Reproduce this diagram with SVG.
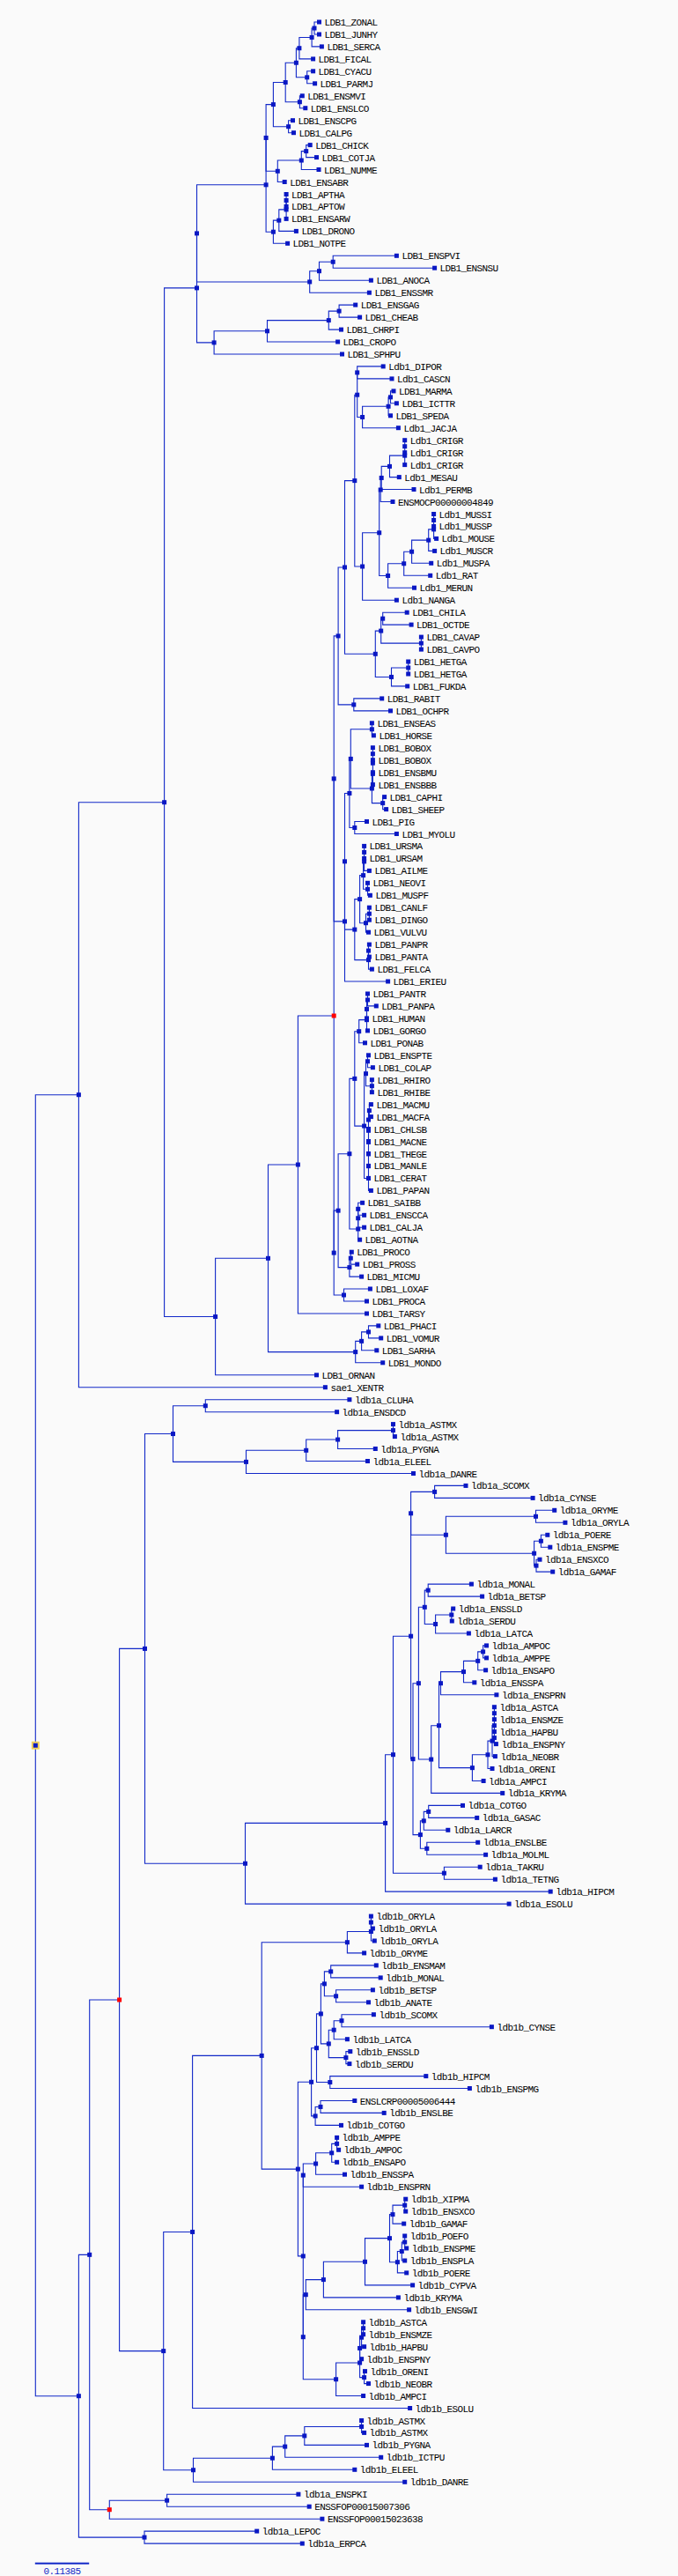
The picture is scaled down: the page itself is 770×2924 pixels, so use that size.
<svg xmlns="http://www.w3.org/2000/svg" width="770" height="2924" viewBox="0 0 770 2924">
<style>
.c path{fill:none;stroke:#1228c8;stroke-width:1.1}
text{font-family:"Liberation Mono","DejaVu Sans Mono",monospace;font-size:11px;letter-spacing:-0.6px;fill:#000}
.sc{fill:#1228c8}
</style>
<defs>
<rect id="m" x="-2.5" y="-2.5" width="5" height="5" fill="#0a18c4"/>
<rect id="mr" x="-2.5" y="-2.5" width="5" height="5" fill="#f00"/>
</defs>
<rect width="770" height="2924" fill="#fafafa"/>
<g id="connectors" class="c">
<path d="M362.5 25H357V39H362.5"/><path d="M357 32H354.1V52.9H365.4"/><path d="M354.1 42.45H339.9V66.9H355.6"/><path d="M355.6 80.8H348.7V94.8H357.6"/><path d="M339.9 54.7H336.4V87.8H348.7"/><path d="M343.3 108.8H340.4V122.7H346.8"/><path d="M336.4 71.25H324.2V115.75H340.4"/><path d="M332.5 136.7H327.6V150.7H333.5"/><path d="M324.2 93.5H310.4V143.7H327.6"/><path d="M352.2 164.6H347.7V178.6H359.5"/><path d="M347.7 171.6H342.3V192.5H362"/><path d="M342.3 182.05H315.3V206.5H323.2"/><path d="M310.4 118.6H302.1V194.3H315.3"/><path d="M325.1 220.5V234.4"/><path d="M325.1 227.45V248.4"/><path d="M325.1 237.9H316.8V262.4H336.4"/><path d="M316.8 250.15H310.4V276.3H326.6"/><path d="M302.1 156.45V263.2H310.4"/>
<path d="M450.4 290.3H378.2V304.2H493.6"/><path d="M378.2 297.25H362.5V318.2H421.4"/><path d="M362.5 307.7H351.7V332.2H419.4"/><path d="M302.1 209.8H223.5V319.95H351.7"/>
<path d="M403.7 346.1H385.1V360.1H408.6"/><path d="M385.1 353.1H373.3V374.1H387.5"/><path d="M373.3 363.6H303.5V388H383.6"/><path d="M303.5 375.8H243.1V402H388.5"/><path d="M223.5 264.9V388.9H243.1"/>
<path d="M435.2 415.9H405.7V429.9H445"/><path d="M447 443.9H443.5V457.8H450.4"/><path d="M443.5 450.85H441.1V471.8H443.5"/><path d="M441.1 461.3H411.6V485.7H452.4"/><path d="M405.7 422.9V473.5H411.6"/><path d="M459.7 499.7V527.6"/><path d="M459.7 517.15H442.5V541.6H453.3"/><path d="M442.5 529.4H433.2V555.5H470"/><path d="M433.2 542.45H432.2V569.5H446"/><path d="M492.6 583.5V611.4H495.6"/><path d="M492.6 600.9H486.7V625.4H493.6"/><path d="M486.7 613.15H467.6V639.3H489.7"/><path d="M467.6 626.2H458.7V653.3H488.7"/><path d="M458.7 639.75H440.6V667.2H470.5"/><path d="M432.2 556H430.7V653.5H440.6"/><path d="M430.7 604.75H411.6V681.2H450.4"/><path d="M405.7 448.2H402.8V643H411.6"/>
<path d="M462.2 695.2H434.7V709.1H467.1"/><path d="M478.4 723.1V737.1"/><path d="M434.7 702.15H432.7V730.1H478.4"/><path d="M463.7 751V765"/><path d="M463.7 758H444.5V778.9H462.7"/><path d="M432.7 716.1H426.3V768.45H444.5"/><path d="M402.8 545.6H391.5V742.3H426.3"/><path d="M433.7 792.9H401.8V806.9H443.5"/><path d="M391.5 643.95H384.1V799.9H401.8"/>
<path d="M422.4 820.8V834.8H424.4"/><path d="M423.4 848.7V890.6"/><path d="M436.6 904.6H434.7V918.6H438.6"/><path d="M423.4 878.4H422.4V911.6H434.7"/><path d="M422.4 827.8H398.3V895H422.4"/><path d="M416.5 932.5H402.8V946.5H450.4"/><path d="M398.3 861.4H396.9V939.5H402.8"/>
<path d="M413.6 960.4V988.4H419.4"/><path d="M417.5 1002.3V1016.3H420.4"/><path d="M413.6 977.9H412.6V1009.3H417.5"/><path d="M419.4 1030.2V1044.2"/><path d="M419.4 1037.2H415.5V1058.2H418.5"/><path d="M412.6 993.6H408.6V1047.7H415.5"/><path d="M419.4 1072.1H418.5V1086.1H419.4"/><path d="M418.5 1079.1V1100.1H422.4"/><path d="M408.6 1020.65H402.8V1089.6H418.5"/><path d="M396.9 900.45H391.5V1055.1H402.8"/><path d="M391.5 977.8V1114H440.6"/><path d="M384.1 721.9H379.2V1045.9H391.5"/>
<path d="M417.5 1128V1141.9H427.3"/><path d="M417.5 1134.95H416.5V1155.9"/><path d="M416.5 1145.4V1169.9H417.5"/><path d="M416.5 1157.65H407.7V1183.8H414.5"/><path d="M418.5 1197.8H417.5V1211.7H423.4"/><path d="M422.4 1225.7V1239.7"/><path d="M417.5 1204.75H415.5V1232.7H422.4"/><path d="M421.4 1253.6H419.4V1267.6H421.4"/><path d="M419.4 1260.6H418.5V1351.4H421.4"/><path d="M415.5 1218.7H413.6V1337.5H418.5"/><path d="M407.7 1170.7H402.8V1278.1H413.6"/><path d="M411.6 1365.3H406.7V1379.3H413.6"/><path d="M406.7 1372.3V1393.2H413.6"/><path d="M406.7 1382.75V1407.2H408.6"/><path d="M402.8 1224.4H396.9V1395H406.7"/><path d="M399.3 1421.2H398.3V1435.1H405.7"/><path d="M398.3 1428.15H396.9V1449.1H410.6"/><path d="M396.9 1309.7H384.1V1438.6H396.9"/><path d="M420.4 1463H390.5V1477H416.5"/><path d="M384.1 1374.15H379.2V1470H390.5"/><path d="M379.2 883.9V1422.1"/><path d="M379.2 1153H338.4V1491H416.5"/>
<path d="M429.8 1504.9H418.5V1518.9H432.7"/><path d="M418.5 1511.9H410.6V1532.8H427.8"/><path d="M410.6 1522.35H403.7V1546.8H434.7"/><path d="M338.4 1322H304.5V1534.6H403.7"/><path d="M304.5 1428.3H244.6V1560.8H359.5"/><path d="M223.5 326.9H186.6V1494.55H244.6"/><path d="M186.6 910.7H89.4V1574.7H369.4"/>
<path d="M396.9 1588.7H233.3V1602.7H382.6"/><path d="M446.5 1616.6V1630.6H448.4"/><path d="M446.5 1623.6H383.6V1644.5H426.3"/><path d="M383.6 1634.05H347.7V1658.5H417.5"/><path d="M347.7 1646.3H279.5V1672.5H469.5"/><path d="M233.3 1595.7H196.5V1659.4H279.5"/>
<path d="M529 1686.4H493.6V1700.4H605.1"/><path d="M629.7 1714.3H608.5V1728.3H641.9"/><path d="M621.8 1742.3H614.4V1756.2H624.8"/><path d="M613 1770.2H609V1784.1H627.7"/><path d="M614.4 1749.25H606.6V1777.15H609"/><path d="M608.5 1721.3H506.4V1763.2H606.6"/><path d="M493.6 1693.4H466.6V1742.25H506.4"/>
<path d="M535.4 1798.1H486.2V1812.1H547.6"/><path d="M514.7 1826H512.8V1840H513.3"/><path d="M512.8 1833H494.6V1854H532.4"/><path d="M486.2 1805.1H482.3V1843.5H494.6"/><path d="M552.5 1867.9H548.6V1881.9H552.5"/><path d="M548.6 1874.9H542.7V1895.8H551.6"/><path d="M542.7 1885.35H526.5V1909.8H538.8"/><path d="M526.5 1897.6H500.5V1923.8H563.9"/><path d="M561.4 1937.7V1965.6"/><path d="M561.4 1965.6V1979.6H563.4"/><path d="M561.4 1958.65H559V1993.6H562.4"/><path d="M559 1976.1H554V2007.5H559"/><path d="M554 1991.8H536.4V2021.5H549.1"/><path d="M500.5 1910.7H498.5V2006.65H536.4"/><path d="M498.5 1958.7H489.7V2035.4H570.7"/><path d="M482.3 1824.3H475.4V1997.05H489.7"/><path d="M525.5 2049.4H486.7V2063.4H541.7"/><path d="M486.7 2056.4H481.3V2077.3H508.8"/><path d="M542.7 2091.3H484.8V2105.3H551.6"/><path d="M481.3 2066.85H477.4V2098.3H484.8"/><path d="M475.4 1910.7H469V2082.6H477.4"/><path d="M466.6 1717.8V1996.65H469"/><path d="M545.2 2119.2H504.4V2133.2H562.4"/><path d="M466.6 1857.2H446.5V2126.2H504.4"/><path d="M446.5 1991.7H437.6V2147.1H625.2"/><path d="M437.6 2069.4H278.5V2161.1H578.1"/><path d="M196.5 1627.55H164.5V2115.25H278.5"/>
<path d="M421.4 2175.1V2189H423.4"/><path d="M421.4 2182.05V2203H425.3"/><path d="M421.4 2192.5H394.4V2216.9H413.6"/><path d="M427.3 2230.9H375.7V2244.9H432.2"/><path d="M423.4 2258.8H381.6V2272.8H418.5"/><path d="M375.7 2237.9H368.4V2265.8H381.6"/><path d="M424.4 2286.7H388V2300.7H558.4"/><path d="M388 2293.7H379.2V2314.7H394.4"/><path d="M397.8 2328.6H392.9V2342.6H396.9"/><path d="M379.2 2304.2H373.3V2335.6H392.9"/><path d="M368.4 2251.85H364.4V2319.9H373.3"/><path d="M483.8 2356.6H374.8V2370.5H533.4"/><path d="M364.4 2285.9H359.5V2363.55H374.8"/><path d="M402.8 2384.5H364V2398.4H436.2"/><path d="M364 2391.45H358.1V2412.4H387.5"/><path d="M359.5 2324.7H353.6V2401.9H358.1"/>
<path d="M382.6 2426.4V2440.3H384.6"/><path d="M382.6 2433.35H376.7V2454.3H382.6"/><path d="M376.7 2443.8H358.6V2468.2H391.5"/><path d="M358.6 2456H344.3V2482.2H410.6"/><path d="M460.7 2496.2H459.7V2510.1H460.7"/><path d="M459.7 2503.15H446V2524.1H458.7"/><path d="M459.7 2538V2552H461.7"/><path d="M459.7 2545H456.3V2566H459.7"/><path d="M456.3 2555.5H451.4V2579.9H461.7"/><path d="M446 2513.6H442.5V2567.7H451.4"/><path d="M442.5 2540.65H414.5V2593.9H468.6"/><path d="M414.5 2567.3H367.4V2607.9H452.4"/><path d="M367.4 2587.6H347.3V2621.8H464.6"/><path d="M412.6 2635.8V2649.7"/><path d="M412.6 2642.75H410.6V2663.7H413.6"/><path d="M410.6 2653.2H408.6V2677.7H410.6"/><path d="M414.5 2691.6H413.6V2705.6H418.5"/><path d="M408.6 2665.45V2698.6H413.6"/><path d="M408.6 2682H381.6V2719.5H412.6"/><path d="M347.3 2604.7H344.3V2700.75H381.6"/><path d="M344.3 2469.1V2652.7"/><path d="M353.6 2363.3H338.4V2560.9H344.3"/><path d="M394.4 2204.7H297.2V2462.1H338.4"/><path d="M297.2 2333.4H218.6V2733.5H465.6"/>
<path d="M410.6 2747.5V2761.4H413.6"/><path d="M410.6 2754.45H345.8V2775.4H416.5"/><path d="M345.8 2764.9H323.7V2789.3H432.7"/><path d="M323.7 2777.1H309.4V2803.3H402.8"/><path d="M309.4 2790.2H219.5V2817.3H459.7"/><path d="M218.6 2533.45H185.7V2803.75H219.5"/><path d="M164.5 1871.4H135.6V2668.6H185.7"/>
<path d="M338.9 2831.2H189.6V2845.2H351.2"/><path d="M189.6 2838.2H124.3V2859.2H365.9"/><path d="M135.6 2270H101.7V2848.7H124.3"/><path d="M291.7 2873.1H164V2887.1H343.3"/><path d="M101.7 2559.35H89.4V2880.1H164"/><path d="M89.4 1242.7H40.3V2719.7H89.4"/>
</g>
<g id="internal-nodes">
<use id="a1" href="#m" x="357" y="32"/><use id="a2" href="#m" x="354.1" y="42.45"/><use id="a3" href="#m" x="339.9" y="54.7"/><use id="a4" href="#m" x="348.7" y="87.8"/><use id="a5" href="#m" x="336.4" y="71.25"/><use id="a6" href="#m" x="340.4" y="115.75"/><use id="a7" href="#m" x="324.2" y="93.5"/><use id="a8" href="#m" x="327.6" y="143.7"/><use id="a9" href="#m" x="310.4" y="118.6"/><use id="a10" href="#m" x="347.7" y="171.6"/><use id="a11" href="#m" x="342.3" y="182.05"/><use id="a12" href="#m" x="315.3" y="194.3"/><use id="a13" href="#m" x="302.1" y="156.45"/><use id="a14" href="#m" x="325.1" y="227.45"/><use id="a15" href="#m" x="325.1" y="237.9"/><use id="a16" href="#m" x="316.8" y="250.15"/><use id="a17" href="#m" x="310.4" y="263.2"/><use id="a18" href="#m" x="302.1" y="209.8"/>
<use id="s1" href="#m" x="378.2" y="297.25"/><use id="s2" href="#m" x="362.5" y="307.7"/><use id="s3" href="#m" x="351.7" y="319.95"/><use id="nA" href="#m" x="223.5" y="264.9"/><use id="t1" href="#m" x="385.1" y="353.1"/><use id="t2" href="#m" x="373.3" y="363.6"/><use id="t3" href="#m" x="303.5" y="375.8"/><use id="t4" href="#m" x="243.1" y="388.9"/><use id="nB" href="#m" x="223.5" y="326.9"/>
<use id="r1" href="#m" x="405.7" y="422.9"/><use id="r2" href="#m" x="443.5" y="450.85"/><use id="r3" href="#m" x="441.1" y="461.3"/><use id="r4" href="#m" x="411.6" y="473.5"/><use id="r5" href="#m" x="405.7" y="448.2"/><use id="r6" href="#m" x="459.7" y="506.7"/><use id="r7" href="#m" x="459.7" y="517.15"/><use id="r8" href="#m" x="442.5" y="529.4"/><use id="r9" href="#m" x="433.2" y="542.45"/><use id="r10" href="#m" x="432.2" y="556"/><use id="r11" href="#m" x="492.6" y="590.45"/><use id="r12" href="#m" x="492.6" y="600.9"/><use id="r13" href="#m" x="486.7" y="613.15"/><use id="r14" href="#m" x="467.6" y="626.2"/><use id="r15" href="#m" x="458.7" y="639.75"/><use id="r16" href="#m" x="440.6" y="653.5"/><use id="r17" href="#m" x="430.7" y="604.75"/><use id="r18" href="#m" x="411.6" y="643"/><use id="r19" href="#m" x="402.8" y="545.6"/><use id="h1" href="#m" x="434.7" y="702.15"/><use id="h2" href="#m" x="478.4" y="730.1"/><use id="h3" href="#m" x="432.7" y="716.1"/><use id="h4" href="#m" x="463.7" y="758"/><use id="h5" href="#m" x="444.5" y="768.45"/><use id="h6" href="#m" x="426.3" y="742.3"/><use id="r20" href="#m" x="391.5" y="643.95"/><use id="lg1" href="#m" x="401.8" y="799.9"/><use id="glires" href="#m" x="384.1" y="721.9"/>
<use id="p1" href="#m" x="422.4" y="827.8"/><use id="b1" href="#m" x="423.4" y="855.7"/><use id="b2" href="#m" x="423.4" y="866.2"/><use id="b3" href="#m" x="423.4" y="878.4"/><use id="b4" href="#m" x="434.7" y="911.6"/><use id="b5" href="#m" x="422.4" y="895"/><use id="p2" href="#m" x="398.3" y="861.4"/><use id="p3" href="#m" x="402.8" y="939.5"/><use id="p4" href="#m" x="396.9" y="900.45"/><use id="c1" href="#m" x="413.6" y="967.4"/><use id="c2" href="#m" x="413.6" y="977.9"/><use id="c3" href="#m" x="417.5" y="1009.3"/><use id="c4" href="#m" x="412.6" y="993.6"/><use id="c5" href="#m" x="419.4" y="1037.2"/><use id="c6" href="#m" x="415.5" y="1047.7"/><use id="c7" href="#m" x="408.6" y="1020.65"/><use id="c8" href="#m" x="418.5" y="1079.1"/><use id="c9" href="#m" x="418.5" y="1089.6"/><use id="c10" href="#m" x="402.8" y="1055.1"/><use id="p5" href="#m" x="391.5" y="977.8"/><use id="laur" href="#m" x="391.5" y="1045.9"/><use id="nH" href="#m" x="379.2" y="883.9"/>
<use id="q1" href="#m" x="417.5" y="1134.95"/><use id="q2" href="#m" x="416.5" y="1145.4"/><use id="q3" href="#m" x="416.5" y="1157.65"/><use id="q4" href="#m" x="407.7" y="1170.7"/><use id="q5" href="#m" x="417.5" y="1204.75"/><use id="q6" href="#m" x="422.4" y="1232.7"/><use id="q7" href="#m" x="415.5" y="1218.7"/><use id="q8" href="#m" x="419.4" y="1260.6"/><use id="q9" href="#m" x="418.5" y="1271.05"/><use id="q10" href="#m" x="418.5" y="1283.3"/><use id="q11" href="#m" x="418.5" y="1296.4"/><use id="q12" href="#m" x="418.5" y="1309.9"/><use id="q13" href="#m" x="418.5" y="1323.65"/><use id="q14" href="#m" x="418.5" y="1337.5"/><use id="q15" href="#m" x="413.6" y="1278.1"/><use id="q16" href="#m" x="402.8" y="1224.4"/><use id="q17" href="#m" x="406.7" y="1372.3"/><use id="q18" href="#m" x="406.7" y="1382.75"/><use id="q19" href="#m" x="406.7" y="1395"/><use id="q20" href="#m" x="396.9" y="1309.7"/><use id="q21" href="#m" x="398.3" y="1428.15"/><use id="q22" href="#m" x="396.9" y="1438.6"/><use id="prim" href="#m" x="384.1" y="1374.15"/><use id="af" href="#m" x="390.5" y="1470"/><use id="nG1" href="#m" x="379.2" y="1422.1"/><use id="nG" href="#mr" x="379.2" y="1153"/><use id="nF" href="#m" x="338.4" y="1322"/><use id="m1" href="#m" x="418.5" y="1511.9"/><use id="m2" href="#m" x="410.6" y="1522.35"/><use id="m3" href="#m" x="403.7" y="1534.6"/><use id="nE" href="#m" x="304.5" y="1428.3"/><use id="nD" href="#m" x="244.6" y="1494.55"/><use id="nC" href="#m" x="186.6" y="910.7"/><use id="nI" href="#m" x="89.4" y="1242.7"/>
<use id="f1" href="#m" x="233.3" y="1595.7"/><use id="f2" href="#m" x="446.5" y="1623.6"/><use id="f3" href="#m" x="383.6" y="1634.05"/><use id="f4" href="#m" x="347.7" y="1646.3"/><use id="f5" href="#m" x="279.5" y="1659.4"/><use id="f6" href="#m" x="196.5" y="1627.55"/>
<use id="g1" href="#m" x="493.6" y="1693.4"/><use id="g2" href="#m" x="608.5" y="1721.3"/><use id="g3" href="#m" x="614.4" y="1749.25"/><use id="g4" href="#m" x="609" y="1777.15"/><use id="g5" href="#m" x="606.6" y="1763.2"/><use id="g6" href="#m" x="506.4" y="1742.25"/><use id="g7" href="#m" x="466.6" y="1717.8"/><use id="g8" href="#m" x="486.2" y="1805.1"/><use id="g9" href="#m" x="512.8" y="1833"/><use id="g10" href="#m" x="494.6" y="1843.5"/><use id="g11" href="#m" x="482.3" y="1824.3"/><use id="g12" href="#m" x="548.6" y="1874.9"/><use id="g13" href="#m" x="542.7" y="1885.35"/><use id="g14" href="#m" x="526.5" y="1897.6"/><use id="g15" href="#m" x="500.5" y="1910.7"/><use id="g16" href="#m" x="561.4" y="1944.7"/><use id="g17" href="#m" x="561.4" y="1972.6"/><use id="g18" href="#m" x="561.4" y="1958.65"/><use id="g19" href="#m" x="559" y="1976.1"/><use id="g20" href="#m" x="554" y="1991.8"/><use id="g21" href="#m" x="536.4" y="2006.65"/><use id="g22" href="#m" x="498.5" y="1958.7"/><use id="g23" href="#m" x="489.7" y="1997.05"/><use id="g24" href="#m" x="475.4" y="1910.7"/><use id="g25" href="#m" x="486.7" y="2056.4"/><use id="g26" href="#m" x="481.3" y="2066.85"/><use id="g27" href="#m" x="484.8" y="2098.3"/><use id="g28" href="#m" x="477.4" y="2082.6"/><use id="g29" href="#m" x="469" y="1996.65"/><use id="g30" href="#m" x="466.6" y="1857.2"/><use id="g31" href="#m" x="504.4" y="2126.2"/><use id="g32" href="#m" x="446.5" y="1991.7"/><use id="g33" href="#m" x="437.6" y="2069.4"/><use id="g34" href="#m" x="278.5" y="2115.25"/><use id="fa" href="#m" x="164.5" y="1871.4"/>
<use id="k1" href="#m" x="421.4" y="2182.05"/><use id="k2" href="#m" x="421.4" y="2192.5"/><use id="k3" href="#m" x="394.4" y="2204.7"/><use id="k4" href="#m" x="375.7" y="2237.9"/><use id="k5" href="#m" x="381.6" y="2265.8"/><use id="k6" href="#m" x="368.4" y="2251.85"/><use id="k7" href="#m" x="388" y="2293.7"/><use id="k8" href="#m" x="379.2" y="2304.2"/><use id="k9" href="#m" x="392.9" y="2335.6"/><use id="k10" href="#m" x="373.3" y="2319.9"/><use id="k11" href="#m" x="364.4" y="2285.9"/><use id="k12" href="#m" x="374.8" y="2363.55"/><use id="k13" href="#m" x="359.5" y="2324.7"/><use id="k14" href="#m" x="364" y="2391.45"/><use id="k15" href="#m" x="358.1" y="2401.9"/><use id="k16" href="#m" x="353.6" y="2363.3"/><use id="k17" href="#m" x="382.6" y="2433.35"/><use id="k18" href="#m" x="376.7" y="2443.8"/><use id="k19" href="#m" x="358.6" y="2456"/><use id="k20" href="#m" x="344.3" y="2469.1"/><use id="k21" href="#m" x="459.7" y="2503.15"/><use id="k22" href="#m" x="446" y="2513.6"/><use id="k23" href="#m" x="459.7" y="2545"/><use id="k24" href="#m" x="456.3" y="2555.5"/><use id="k25" href="#m" x="451.4" y="2567.7"/><use id="k26" href="#m" x="442.5" y="2540.65"/><use id="k27" href="#m" x="414.5" y="2567.3"/><use id="k28" href="#m" x="367.4" y="2587.6"/><use id="k29" href="#m" x="347.3" y="2604.7"/><use id="k30" href="#m" x="412.6" y="2642.75"/><use id="k31" href="#m" x="410.6" y="2653.2"/><use id="k32" href="#m" x="408.6" y="2665.45"/><use id="k33" href="#m" x="413.6" y="2698.6"/><use id="k34" href="#m" x="408.6" y="2682"/><use id="k35" href="#m" x="381.6" y="2700.75"/><use id="k36" href="#m" x="344.3" y="2652.7"/><use id="k37" href="#m" x="344.3" y="2560.9"/><use id="k38" href="#m" x="338.4" y="2462.1"/><use id="k39" href="#m" x="297.2" y="2333.4"/><use id="k40" href="#m" x="218.6" y="2533.45"/><use id="k41" href="#m" x="410.6" y="2754.45"/><use id="k42" href="#m" x="345.8" y="2764.9"/><use id="k43" href="#m" x="323.7" y="2777.1"/><use id="k44" href="#m" x="309.4" y="2790.2"/><use id="k45" href="#m" x="219.5" y="2803.75"/><use id="fb" href="#m" x="185.7" y="2668.6"/><use id="nLred" href="#mr" x="135.6" y="2270"/><use id="e1" href="#m" x="189.6" y="2838.2"/><use id="e2" href="#mr" x="124.3" y="2848.7"/><use id="nK" href="#m" x="101.7" y="2559.35"/><use id="lp" href="#m" x="164" y="2880.1"/><use id="nJ" href="#m" x="89.4" y="2719.7"/>
<g id="root"><rect x="35.8" y="1976.7" width="9" height="9" fill="#f3cf5a"/><rect x="37.8" y="1978.7" width="5" height="5" fill="#0a18c4"/></g>
</g>
<g id="leaves">
<g id="l1"><use href="#m" x="362.5" y="25"/><text x="368.5" y="29">LDB1_ZONAL</text></g>
<g id="l2"><use href="#m" x="362.5" y="39"/><text x="368.5" y="43">LDB1_JUNHY</text></g>
<g id="l3"><use href="#m" x="365.4" y="52.9"/><text x="371.4" y="56.9">LDB1_SERCA</text></g>
<g id="l4"><use href="#m" x="355.6" y="66.9"/><text x="361.6" y="70.9">LDB1_FICAL</text></g>
<g id="l5"><use href="#m" x="355.6" y="80.8"/><text x="361.6" y="84.8">LDB1_CYACU</text></g>
<g id="l6"><use href="#m" x="357.6" y="94.8"/><text x="363.6" y="98.8">LDB1_PARMJ</text></g>
<g id="l7"><use href="#m" x="343.3" y="108.8"/><text x="349.3" y="112.8">LDB1_ENSMVI</text></g>
<g id="l8"><use href="#m" x="346.8" y="122.7"/><text x="352.8" y="126.7">LDB1_ENSLCO</text></g>
<g id="l9"><use href="#m" x="332.5" y="136.7"/><text x="338.5" y="140.7">LDB1_ENSCPG</text></g>
<g id="l10"><use href="#m" x="333.5" y="150.7"/><text x="339.5" y="154.7">LDB1_CALPG</text></g>
<g id="l11"><use href="#m" x="352.2" y="164.6"/><text x="358.2" y="168.6">LDB1_CHICK</text></g>
<g id="l12"><use href="#m" x="359.5" y="178.6"/><text x="365.5" y="182.6">LDB1_COTJA</text></g>
<g id="l13"><use href="#m" x="362" y="192.5"/><text x="368" y="196.5">LDB1_NUMME</text></g>
<g id="l14"><use href="#m" x="323.2" y="206.5"/><text x="329.2" y="210.5">LDB1_ENSABR</text></g>
<g id="l15"><use href="#m" x="325.1" y="220.5"/><text x="331.1" y="224.5">LDB1_APTHA</text></g>
<g id="l16"><use href="#m" x="325.1" y="234.4"/><text x="331.1" y="238.4">LDB1_APTOW</text></g>
<g id="l17"><use href="#m" x="325.1" y="248.4"/><text x="331.1" y="252.4">LDB1_ENSARW</text></g>
<g id="l18"><use href="#m" x="336.4" y="262.4"/><text x="342.4" y="266.4">LDB1_DRONO</text></g>
<g id="l19"><use href="#m" x="326.6" y="276.3"/><text x="332.6" y="280.3">LDB1_NOTPE</text></g>
<g id="l20"><use href="#m" x="450.4" y="290.3"/><text x="456.4" y="294.3">LDB1_ENSPVI</text></g>
<g id="l21"><use href="#m" x="493.6" y="304.2"/><text x="499.6" y="308.2">LDB1_ENSNSU</text></g>
<g id="l22"><use href="#m" x="421.4" y="318.2"/><text x="427.4" y="322.2">LDB1_ANOCA</text></g>
<g id="l23"><use href="#m" x="419.4" y="332.2"/><text x="425.4" y="336.2">LDB1_ENSSMR</text></g>
<g id="l24"><use href="#m" x="403.7" y="346.1"/><text x="409.7" y="350.1">LDB1_ENSGAG</text></g>
<g id="l25"><use href="#m" x="408.6" y="360.1"/><text x="414.6" y="364.1">LDB1_CHEAB</text></g>
<g id="l26"><use href="#m" x="387.5" y="374.1"/><text x="393.5" y="378.1">LDB1_CHRPI</text></g>
<g id="l27"><use href="#m" x="383.6" y="388"/><text x="389.6" y="392">LDB1_CROPO</text></g>
<g id="l28"><use href="#m" x="388.5" y="402"/><text x="394.5" y="406">LDB1_SPHPU</text></g>
<g id="l29"><use href="#m" x="435.2" y="415.9"/><text x="441.2" y="419.9">Ldb1_DIPOR</text></g>
<g id="l30"><use href="#m" x="445" y="429.9"/><text x="451" y="433.9">Ldb1_CASCN</text></g>
<g id="l31"><use href="#m" x="447" y="443.9"/><text x="453" y="447.9">LDB1_MARMA</text></g>
<g id="l32"><use href="#m" x="450.4" y="457.8"/><text x="456.4" y="461.8">LDB1_ICTTR</text></g>
<g id="l33"><use href="#m" x="443.5" y="471.8"/><text x="449.5" y="475.8">LDB1_SPEDA</text></g>
<g id="l34"><use href="#m" x="452.4" y="485.7"/><text x="458.4" y="489.7">Ldb1_JACJA</text></g>
<g id="l35"><use href="#m" x="459.7" y="499.7"/><text x="465.7" y="503.7">Ldb1_CRIGR</text></g>
<g id="l36"><use href="#m" x="459.7" y="513.7"/><text x="465.7" y="517.7">Ldb1_CRIGR</text></g>
<g id="l37"><use href="#m" x="459.7" y="527.6"/><text x="465.7" y="531.6">Ldb1_CRIGR</text></g>
<g id="l38"><use href="#m" x="453.3" y="541.6"/><text x="459.3" y="545.6">Ldb1_MESAU</text></g>
<g id="l39"><use href="#m" x="470" y="555.5"/><text x="476" y="559.5">Ldb1_PERMB</text></g>
<g id="l40"><use href="#m" x="446" y="569.5"/><text x="452" y="573.5">ENSMOCP00000004849</text></g>
<g id="l41"><use href="#m" x="492.6" y="583.5"/><text x="498.6" y="587.5">Ldb1_MUSSI</text></g>
<g id="l42"><use href="#m" x="492.6" y="597.4"/><text x="498.6" y="601.4">Ldb1_MUSSP</text></g>
<g id="l43"><use href="#m" x="495.6" y="611.4"/><text x="501.6" y="615.4">Ldb1_MOUSE</text></g>
<g id="l44"><use href="#m" x="493.6" y="625.4"/><text x="499.6" y="629.4">Ldb1_MUSCR</text></g>
<g id="l45"><use href="#m" x="489.7" y="639.3"/><text x="495.7" y="643.3">Ldb1_MUSPA</text></g>
<g id="l46"><use href="#m" x="488.7" y="653.3"/><text x="494.7" y="657.3">Ldb1_RAT</text></g>
<g id="l47"><use href="#m" x="470.5" y="667.2"/><text x="476.5" y="671.2">Ldb1_MERUN</text></g>
<g id="l48"><use href="#m" x="450.4" y="681.2"/><text x="456.4" y="685.2">Ldb1_NANGA</text></g>
<g id="l49"><use href="#m" x="462.2" y="695.2"/><text x="468.2" y="699.2">LDB1_CHILA</text></g>
<g id="l50"><use href="#m" x="467.1" y="709.1"/><text x="473.1" y="713.1">LDB1_OCTDE</text></g>
<g id="l51"><use href="#m" x="478.4" y="723.1"/><text x="484.4" y="727.1">LDB1_CAVAP</text></g>
<g id="l52"><use href="#m" x="478.4" y="737.1"/><text x="484.4" y="741.1">LDB1_CAVPO</text></g>
<g id="l53"><use href="#m" x="463.7" y="751"/><text x="469.7" y="755">LDB1_HETGA</text></g>
<g id="l54"><use href="#m" x="463.7" y="765"/><text x="469.7" y="769">LDB1_HETGA</text></g>
<g id="l55"><use href="#m" x="462.7" y="778.9"/><text x="468.7" y="782.9">LDB1_FUKDA</text></g>
<g id="l56"><use href="#m" x="433.7" y="792.9"/><text x="439.7" y="796.9">LDB1_RABIT</text></g>
<g id="l57"><use href="#m" x="443.5" y="806.9"/><text x="449.5" y="810.9">LDB1_OCHPR</text></g>
<g id="l58"><use href="#m" x="422.4" y="820.8"/><text x="428.4" y="824.8">LDB1_ENSEAS</text></g>
<g id="l59"><use href="#m" x="424.4" y="834.8"/><text x="430.4" y="838.8">LDB1_HORSE</text></g>
<g id="l60"><use href="#m" x="423.4" y="848.7"/><text x="429.4" y="852.7">LDB1_BOBOX</text></g>
<g id="l61"><use href="#m" x="423.4" y="862.7"/><text x="429.4" y="866.7">LDB1_BOBOX</text></g>
<g id="l62"><use href="#m" x="423.4" y="876.7"/><text x="429.4" y="880.7">LDB1_ENSBMU</text></g>
<g id="l63"><use href="#m" x="423.4" y="890.6"/><text x="429.4" y="894.6">LDB1_ENSBBB</text></g>
<g id="l64"><use href="#m" x="436.6" y="904.6"/><text x="442.6" y="908.6">LDB1_CAPHI</text></g>
<g id="l65"><use href="#m" x="438.6" y="918.6"/><text x="444.6" y="922.6">LDB1_SHEEP</text></g>
<g id="l66"><use href="#m" x="416.5" y="932.5"/><text x="422.5" y="936.5">LDB1_PIG</text></g>
<g id="l67"><use href="#m" x="450.4" y="946.5"/><text x="456.4" y="950.5">LDB1_MYOLU</text></g>
<g id="l68"><use href="#m" x="413.6" y="960.4"/><text x="419.6" y="964.4">LDB1_URSMA</text></g>
<g id="l69"><use href="#m" x="413.6" y="974.4"/><text x="419.6" y="978.4">LDB1_URSAM</text></g>
<g id="l70"><use href="#m" x="419.4" y="988.4"/><text x="425.4" y="992.4">LDB1_AILME</text></g>
<g id="l71"><use href="#m" x="417.5" y="1002.3"/><text x="423.5" y="1006.3">LDB1_NEOVI</text></g>
<g id="l72"><use href="#m" x="420.4" y="1016.3"/><text x="426.4" y="1020.3">LDB1_MUSPF</text></g>
<g id="l73"><use href="#m" x="419.4" y="1030.2"/><text x="425.4" y="1034.2">LDB1_CANLF</text></g>
<g id="l74"><use href="#m" x="419.4" y="1044.2"/><text x="425.4" y="1048.2">LDB1_DINGO</text></g>
<g id="l75"><use href="#m" x="418.5" y="1058.2"/><text x="424.5" y="1062.2">LDB1_VULVU</text></g>
<g id="l76"><use href="#m" x="419.4" y="1072.1"/><text x="425.4" y="1076.1">LDB1_PANPR</text></g>
<g id="l77"><use href="#m" x="419.4" y="1086.1"/><text x="425.4" y="1090.1">LDB1_PANTA</text></g>
<g id="l78"><use href="#m" x="422.4" y="1100.1"/><text x="428.4" y="1104.1">LDB1_FELCA</text></g>
<g id="l79"><use href="#m" x="440.6" y="1114"/><text x="446.6" y="1118">LDB1_ERIEU</text></g>
<g id="l80"><use href="#m" x="417.5" y="1128"/><text x="423.5" y="1132">LDB1_PANTR</text></g>
<g id="l81"><use href="#m" x="427.3" y="1141.9"/><text x="433.3" y="1145.9">LDB1_PANPA</text></g>
<g id="l82"><use href="#m" x="416.5" y="1155.9"/><text x="422.5" y="1159.9">LDB1_HUMAN</text></g>
<g id="l83"><use href="#m" x="417.5" y="1169.9"/><text x="423.5" y="1173.9">LDB1_GORGO</text></g>
<g id="l84"><use href="#m" x="414.5" y="1183.8"/><text x="420.5" y="1187.8">LDB1_PONAB</text></g>
<g id="l85"><use href="#m" x="418.5" y="1197.8"/><text x="424.5" y="1201.8">LDB1_ENSPTE</text></g>
<g id="l86"><use href="#m" x="423.4" y="1211.7"/><text x="429.4" y="1215.7">LDB1_COLAP</text></g>
<g id="l87"><use href="#m" x="422.4" y="1225.7"/><text x="428.4" y="1229.7">LDB1_RHIRO</text></g>
<g id="l88"><use href="#m" x="422.4" y="1239.7"/><text x="428.4" y="1243.7">LDB1_RHIBE</text></g>
<g id="l89"><use href="#m" x="421.4" y="1253.6"/><text x="427.4" y="1257.6">LDB1_MACMU</text></g>
<g id="l90"><use href="#m" x="421.4" y="1267.6"/><text x="427.4" y="1271.6">LDB1_MACFA</text></g>
<g id="l91"><use href="#m" x="418.5" y="1281.5"/><text x="424.5" y="1285.5">LDB1_CHLSB</text></g>
<g id="l92"><use href="#m" x="418.5" y="1295.5"/><text x="424.5" y="1299.5">LDB1_MACNE</text></g>
<g id="l93"><use href="#m" x="418.5" y="1309.5"/><text x="424.5" y="1313.5">LDB1_THEGE</text></g>
<g id="l94"><use href="#m" x="418.5" y="1323.4"/><text x="424.5" y="1327.4">LDB1_MANLE</text></g>
<g id="l95"><use href="#m" x="418.5" y="1337.4"/><text x="424.5" y="1341.4">LDB1_CERAT</text></g>
<g id="l96"><use href="#m" x="421.4" y="1351.4"/><text x="427.4" y="1355.4">LDB1_PAPAN</text></g>
<g id="l97"><use href="#m" x="411.6" y="1365.3"/><text x="417.6" y="1369.3">LDB1_SAIBB</text></g>
<g id="l98"><use href="#m" x="413.6" y="1379.3"/><text x="419.6" y="1383.3">LDB1_ENSCCA</text></g>
<g id="l99"><use href="#m" x="413.6" y="1393.2"/><text x="419.6" y="1397.2">LDB1_CALJA</text></g>
<g id="l100"><use href="#m" x="408.6" y="1407.2"/><text x="414.6" y="1411.2">LDB1_AOTNA</text></g>
<g id="l101"><use href="#m" x="399.3" y="1421.2"/><text x="405.3" y="1425.2">LDB1_PROCO</text></g>
<g id="l102"><use href="#m" x="405.7" y="1435.1"/><text x="411.7" y="1439.1">LDB1_PROSS</text></g>
<g id="l103"><use href="#m" x="410.6" y="1449.1"/><text x="416.6" y="1453.1">LDB1_MICMU</text></g>
<g id="l104"><use href="#m" x="420.4" y="1463"/><text x="426.4" y="1467">LDB1_LOXAF</text></g>
<g id="l105"><use href="#m" x="416.5" y="1477"/><text x="422.5" y="1481">LDB1_PROCA</text></g>
<g id="l106"><use href="#m" x="416.5" y="1491"/><text x="422.5" y="1495">LDB1_TARSY</text></g>
<g id="l107"><use href="#m" x="429.8" y="1504.9"/><text x="435.8" y="1508.9">LDB1_PHACI</text></g>
<g id="l108"><use href="#m" x="432.7" y="1518.9"/><text x="438.7" y="1522.9">LDB1_VOMUR</text></g>
<g id="l109"><use href="#m" x="427.8" y="1532.8"/><text x="433.8" y="1536.8">LDB1_SARHA</text></g>
<g id="l110"><use href="#m" x="434.7" y="1546.8"/><text x="440.7" y="1550.8">LDB1_MONDO</text></g>
<g id="l111"><use href="#m" x="359.5" y="1560.8"/><text x="365.5" y="1564.8">LDB1_ORNAN</text></g>
<g id="l112"><use href="#m" x="369.4" y="1574.7"/><text x="375.4" y="1578.7">sae1_XENTR</text></g>
<g id="l113"><use href="#m" x="396.9" y="1588.7"/><text x="402.9" y="1592.7">ldb1a_CLUHA</text></g>
<g id="l114"><use href="#m" x="382.6" y="1602.7"/><text x="388.6" y="1606.7">ldb1a_ENSDCD</text></g>
<g id="l115"><use href="#m" x="446.5" y="1616.6"/><text x="452.5" y="1620.6">ldb1a_ASTMX</text></g>
<g id="l116"><use href="#m" x="448.4" y="1630.6"/><text x="454.4" y="1634.6">ldb1a_ASTMX</text></g>
<g id="l117"><use href="#m" x="426.3" y="1644.5"/><text x="432.3" y="1648.5">ldb1a_PYGNA</text></g>
<g id="l118"><use href="#m" x="417.5" y="1658.5"/><text x="423.5" y="1662.5">ldb1a_ELEEL</text></g>
<g id="l119"><use href="#m" x="469.5" y="1672.5"/><text x="475.5" y="1676.5">ldb1a_DANRE</text></g>
<g id="l120"><use href="#m" x="529" y="1686.4"/><text x="535" y="1690.4">ldb1a_SCOMX</text></g>
<g id="l121"><use href="#m" x="605.1" y="1700.4"/><text x="611.1" y="1704.4">ldb1a_CYNSE</text></g>
<g id="l122"><use href="#m" x="629.7" y="1714.3"/><text x="635.7" y="1718.3">ldb1a_ORYME</text></g>
<g id="l123"><use href="#m" x="641.9" y="1728.3"/><text x="647.9" y="1732.3">ldb1a_ORYLA</text></g>
<g id="l124"><use href="#m" x="621.8" y="1742.3"/><text x="627.8" y="1746.3">ldb1a_POERE</text></g>
<g id="l125"><use href="#m" x="624.8" y="1756.2"/><text x="630.8" y="1760.2">ldb1a_ENSPME</text></g>
<g id="l126"><use href="#m" x="613" y="1770.2"/><text x="619" y="1774.2">ldb1a_ENSXCO</text></g>
<g id="l127"><use href="#m" x="627.7" y="1784.1"/><text x="633.7" y="1788.1">ldb1a_GAMAF</text></g>
<g id="l128"><use href="#m" x="535.4" y="1798.1"/><text x="541.4" y="1802.1">ldb1a_MONAL</text></g>
<g id="l129"><use href="#m" x="547.6" y="1812.1"/><text x="553.6" y="1816.1">ldb1a_BETSP</text></g>
<g id="l130"><use href="#m" x="514.7" y="1826"/><text x="520.7" y="1830">ldb1a_ENSSLD</text></g>
<g id="l131"><use href="#m" x="513.3" y="1840"/><text x="519.3" y="1844">ldb1a_SERDU</text></g>
<g id="l132"><use href="#m" x="532.4" y="1854"/><text x="538.4" y="1858">ldb1a_LATCA</text></g>
<g id="l133"><use href="#m" x="552.5" y="1867.9"/><text x="558.5" y="1871.9">ldb1a_AMPOC</text></g>
<g id="l134"><use href="#m" x="552.5" y="1881.9"/><text x="558.5" y="1885.9">ldb1a_AMPPE</text></g>
<g id="l135"><use href="#m" x="551.6" y="1895.8"/><text x="557.6" y="1899.8">ldb1a_ENSAPO</text></g>
<g id="l136"><use href="#m" x="538.8" y="1909.8"/><text x="544.8" y="1913.8">ldb1a_ENSSPA</text></g>
<g id="l137"><use href="#m" x="563.9" y="1923.8"/><text x="569.9" y="1927.8">ldb1a_ENSPRN</text></g>
<g id="l138"><use href="#m" x="561.4" y="1937.7"/><text x="567.4" y="1941.7">ldb1a_ASTCA</text></g>
<g id="l139"><use href="#m" x="561.4" y="1951.7"/><text x="567.4" y="1955.7">ldb1a_ENSMZE</text></g>
<g id="l140"><use href="#m" x="561.4" y="1965.6"/><text x="567.4" y="1969.6">ldb1a_HAPBU</text></g>
<g id="l141"><use href="#m" x="563.4" y="1979.6"/><text x="569.4" y="1983.6">ldb1a_ENSPNY</text></g>
<g id="l142"><use href="#m" x="562.4" y="1993.6"/><text x="568.4" y="1997.6">ldb1a_NEOBR</text></g>
<g id="l143"><use href="#m" x="559" y="2007.5"/><text x="565" y="2011.5">ldb1a_ORENI</text></g>
<g id="l144"><use href="#m" x="549.1" y="2021.5"/><text x="555.1" y="2025.5">ldb1a_AMPCI</text></g>
<g id="l145"><use href="#m" x="570.7" y="2035.4"/><text x="576.7" y="2039.4">ldb1a_KRYMA</text></g>
<g id="l146"><use href="#m" x="525.5" y="2049.4"/><text x="531.5" y="2053.4">ldb1a_COTGO</text></g>
<g id="l147"><use href="#m" x="541.7" y="2063.4"/><text x="547.7" y="2067.4">ldb1a_GASAC</text></g>
<g id="l148"><use href="#m" x="508.8" y="2077.3"/><text x="514.8" y="2081.3">ldb1a_LARCR</text></g>
<g id="l149"><use href="#m" x="542.7" y="2091.3"/><text x="548.7" y="2095.3">ldb1a_ENSLBE</text></g>
<g id="l150"><use href="#m" x="551.6" y="2105.3"/><text x="557.6" y="2109.3">ldb1a_MOLML</text></g>
<g id="l151"><use href="#m" x="545.2" y="2119.2"/><text x="551.2" y="2123.2">ldb1a_TAKRU</text></g>
<g id="l152"><use href="#m" x="562.4" y="2133.2"/><text x="568.4" y="2137.2">ldb1a_TETNG</text></g>
<g id="l153"><use href="#m" x="625.2" y="2147.1"/><text x="631.2" y="2151.1">ldb1a_HIPCM</text></g>
<g id="l154"><use href="#m" x="578.1" y="2161.1"/><text x="584.1" y="2165.1">ldb1a_ESOLU</text></g>
<g id="l155"><use href="#m" x="421.4" y="2175.1"/><text x="427.4" y="2179.1">ldb1b_ORYLA</text></g>
<g id="l156"><use href="#m" x="423.4" y="2189"/><text x="429.4" y="2193">ldb1b_ORYLA</text></g>
<g id="l157"><use href="#m" x="425.3" y="2203"/><text x="431.3" y="2207">ldb1b_ORYLA</text></g>
<g id="l158"><use href="#m" x="413.6" y="2216.9"/><text x="419.6" y="2220.9">ldb1b_ORYME</text></g>
<g id="l159"><use href="#m" x="427.3" y="2230.9"/><text x="433.3" y="2234.9">ldb1b_ENSMAM</text></g>
<g id="l160"><use href="#m" x="432.2" y="2244.9"/><text x="438.2" y="2248.9">ldb1b_MONAL</text></g>
<g id="l161"><use href="#m" x="423.4" y="2258.8"/><text x="429.4" y="2262.8">ldb1b_BETSP</text></g>
<g id="l162"><use href="#m" x="418.5" y="2272.8"/><text x="424.5" y="2276.8">ldb1b_ANATE</text></g>
<g id="l163"><use href="#m" x="424.4" y="2286.7"/><text x="430.4" y="2290.7">ldb1b_SCOMX</text></g>
<g id="l164"><use href="#m" x="558.4" y="2300.7"/><text x="564.4" y="2304.7">ldb1b_CYNSE</text></g>
<g id="l165"><use href="#m" x="394.4" y="2314.7"/><text x="400.4" y="2318.7">ldb1b_LATCA</text></g>
<g id="l166"><use href="#m" x="397.8" y="2328.6"/><text x="403.8" y="2332.6">ldb1b_ENSSLD</text></g>
<g id="l167"><use href="#m" x="396.9" y="2342.6"/><text x="402.9" y="2346.6">ldb1b_SERDU</text></g>
<g id="l168"><use href="#m" x="483.8" y="2356.6"/><text x="489.8" y="2360.6">ldb1b_HIPCM</text></g>
<g id="l169"><use href="#m" x="533.4" y="2370.5"/><text x="539.4" y="2374.5">ldb1b_ENSPMG</text></g>
<g id="l170"><use href="#m" x="402.8" y="2384.5"/><text x="408.8" y="2388.5">ENSLCRP00005006444</text></g>
<g id="l171"><use href="#m" x="436.2" y="2398.4"/><text x="442.2" y="2402.4">ldb1b_ENSLBE</text></g>
<g id="l172"><use href="#m" x="387.5" y="2412.4"/><text x="393.5" y="2416.4">ldb1b_COTGO</text></g>
<g id="l173"><use href="#m" x="382.6" y="2426.4"/><text x="388.6" y="2430.4">ldb1b_AMPPE</text></g>
<g id="l174"><use href="#m" x="384.6" y="2440.3"/><text x="390.6" y="2444.3">ldb1b_AMPOC</text></g>
<g id="l175"><use href="#m" x="382.6" y="2454.3"/><text x="388.6" y="2458.3">ldb1b_ENSAPO</text></g>
<g id="l176"><use href="#m" x="391.5" y="2468.2"/><text x="397.5" y="2472.2">ldb1b_ENSSPA</text></g>
<g id="l177"><use href="#m" x="410.6" y="2482.2"/><text x="416.6" y="2486.2">ldb1b_ENSPRN</text></g>
<g id="l178"><use href="#m" x="460.7" y="2496.2"/><text x="466.7" y="2500.2">ldb1b_XIPMA</text></g>
<g id="l179"><use href="#m" x="460.7" y="2510.1"/><text x="466.7" y="2514.1">ldb1b_ENSXCO</text></g>
<g id="l180"><use href="#m" x="458.7" y="2524.1"/><text x="464.7" y="2528.1">ldb1b_GAMAF</text></g>
<g id="l181"><use href="#m" x="459.7" y="2538"/><text x="465.7" y="2542">ldb1b_POEFO</text></g>
<g id="l182"><use href="#m" x="461.7" y="2552"/><text x="467.7" y="2556">ldb1b_ENSPME</text></g>
<g id="l183"><use href="#m" x="459.7" y="2566"/><text x="465.7" y="2570">ldb1b_ENSPLA</text></g>
<g id="l184"><use href="#m" x="461.7" y="2579.9"/><text x="467.7" y="2583.9">ldb1b_POERE</text></g>
<g id="l185"><use href="#m" x="468.6" y="2593.9"/><text x="474.6" y="2597.9">ldb1b_CYPVA</text></g>
<g id="l186"><use href="#m" x="452.4" y="2607.9"/><text x="458.4" y="2611.9">ldb1b_KRYMA</text></g>
<g id="l187"><use href="#m" x="464.6" y="2621.8"/><text x="470.6" y="2625.8">ldb1b_ENSGWI</text></g>
<g id="l188"><use href="#m" x="412.6" y="2635.8"/><text x="418.6" y="2639.8">ldb1b_ASTCA</text></g>
<g id="l189"><use href="#m" x="412.6" y="2649.7"/><text x="418.6" y="2653.7">ldb1b_ENSMZE</text></g>
<g id="l190"><use href="#m" x="413.6" y="2663.7"/><text x="419.6" y="2667.7">ldb1b_HAPBU</text></g>
<g id="l191"><use href="#m" x="410.6" y="2677.7"/><text x="416.6" y="2681.7">ldb1b_ENSPNY</text></g>
<g id="l192"><use href="#m" x="414.5" y="2691.6"/><text x="420.5" y="2695.6">ldb1b_ORENI</text></g>
<g id="l193"><use href="#m" x="418.5" y="2705.6"/><text x="424.5" y="2709.6">ldb1b_NEOBR</text></g>
<g id="l194"><use href="#m" x="412.6" y="2719.5"/><text x="418.6" y="2723.5">ldb1b_AMPCI</text></g>
<g id="l195"><use href="#m" x="465.6" y="2733.5"/><text x="471.6" y="2737.5">ldb1b_ESOLU</text></g>
<g id="l196"><use href="#m" x="410.6" y="2747.5"/><text x="416.6" y="2751.5">ldb1b_ASTMX</text></g>
<g id="l197"><use href="#m" x="413.6" y="2761.4"/><text x="419.6" y="2765.4">ldb1b_ASTMX</text></g>
<g id="l198"><use href="#m" x="416.5" y="2775.4"/><text x="422.5" y="2779.4">ldb1b_PYGNA</text></g>
<g id="l199"><use href="#m" x="432.7" y="2789.3"/><text x="438.7" y="2793.3">ldb1b_ICTPU</text></g>
<g id="l200"><use href="#m" x="402.8" y="2803.3"/><text x="408.8" y="2807.3">ldb1b_ELEEL</text></g>
<g id="l201"><use href="#m" x="459.7" y="2817.3"/><text x="465.7" y="2821.3">ldb1b_DANRE</text></g>
<g id="l202"><use href="#m" x="338.9" y="2831.2"/><text x="344.9" y="2835.2">ldb1a_ENSPKI</text></g>
<g id="l203"><use href="#m" x="351.2" y="2845.2"/><text x="357.2" y="2849.2">ENSSFOP00015007306</text></g>
<g id="l204"><use href="#m" x="365.9" y="2859.2"/><text x="371.9" y="2863.2">ENSSFOP00015023638</text></g>
<g id="l205"><use href="#m" x="291.7" y="2873.1"/><text x="297.7" y="2877.1">ldb1a_LEPOC</text></g>
<g id="l206"><use href="#m" x="343.3" y="2887.1"/><text x="349.3" y="2891.1">ldb1a_ERPCA</text></g>
</g>
<g id="scale-bar">
<rect x="39.8" y="2908.7" width="61.4" height="2" class="sc"/>
<text x="49.5" y="2922" class="sc">0.11385</text>
</g>
</svg>
